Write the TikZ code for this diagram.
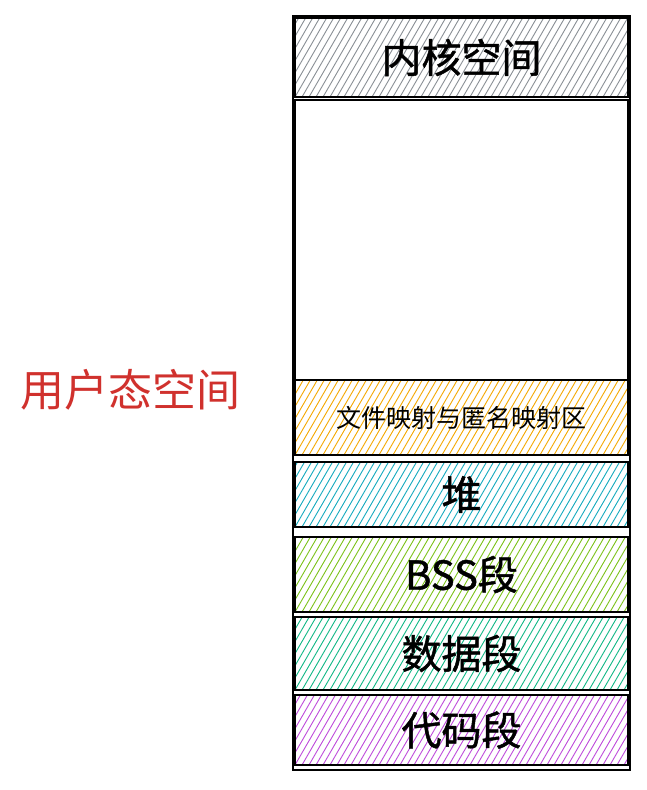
\documentclass[tikz,border=0pt]{standalone}
\usepackage{fontspec}
\newfontfamily\cjk{Noto Sans CJK SC}
\newfontfamily\cjkmed[FakeBold=1.2]{Noto Sans CJK SC}
\usetikzlibrary{positioning}

\definecolor{kernelgray}{HTML}{8A9096}
\definecolor{mmaporange}{HTML}{F5A800}
\definecolor{heapcyan}{HTML}{15AABF}
\definecolor{bssgreen}{HTML}{7CC21A}
\definecolor{datateal}{HTML}{12B886}
\definecolor{codegrape}{HTML}{BE4BDB}
\definecolor{userred}{HTML}{D0312D}

\begin{document}
\begin{tikzpicture}[
    x=1pt, y=-1pt,
    % Stil fuer die Segmente im Speicher
    segbox/.style={
      rectangle,
      draw=black,
      line width=2pt,
      fill=white,
      minimum width=333pt,
      inner sep=0pt,
      outer sep=0pt,
      font=\cjkmed\fontsize{40}{40}\selectfont
    },
    % Schraffur in der Farbe des Segments
    hatch/.style={
      path picture={
        \foreach \k in {-20,...,50}
          \draw[#1, line width=0.9pt]
            ([xshift=\k*7pt]path picture bounding box.south west) -- ++(60:200pt);
      }
    }
  ]
  \useasboundingbox (0,0) rectangle (647,790);

  % --- SEGMENTE ---
  \node[segbox, hatch=kernelgray, minimum height=79pt, anchor=north west] (kernel) at (295,18) {内核空间};
  \node[segbox, minimum height=280pt, below=3pt of kernel] (free) {};
  \node[segbox, hatch=mmaporange, minimum height=75pt, below=0pt of free,
        font=\cjk\fontsize{25}{25}\selectfont] (mmap) {文件映射与匿名映射区};
  \node[segbox, hatch=heapcyan, minimum height=65pt, below=7pt of mmap] (heap) {堆};
  \node[segbox, hatch=bssgreen, minimum height=75pt, below=10pt of heap] (bss) {BSS段};
  \node[segbox, hatch=datateal, minimum height=73pt, below=5pt of bss] (data) {数据段};
  \node[segbox, hatch=codegrape, minimum height=70pt, below=5pt of data] (code) {代码段};

  % Rahmen um den ganzen Adressraum
  \draw[line width=1.5pt] ([shift={(-2,-2)}]kernel.north west) rectangle ([shift={(2,5)}]code.south east);

  % --- BESCHRIFTUNG ---
  \node[text=userred, font=\cjk\fontsize{44}{44}\selectfont] (user) at (130,390) {用户态空间};

\end{tikzpicture}
\end{document}
